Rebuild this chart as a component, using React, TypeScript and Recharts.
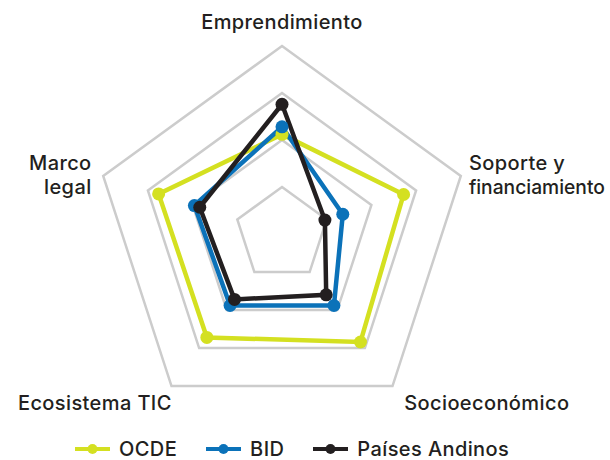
import React from 'react';
import { RadarChart, Radar, PolarGrid, PolarAngleAxis, PolarRadiusAxis, Legend } from 'recharts';

// ejes del radar, en sentido horario desde arriba
const dimensiones = ['Emprendimiento', 'Soporte y financiamiento', 'Socioeconómico', 'Ecosistema TIC', 'Marco legal'];

// valores (escala 0-100)
const ocde = [53, 68, 71, 68, 69];
const bid = [57, 34, 47, 47, 49];
const paisesAndinos = [69, 24, 40, 43, 46];

const series = [
  { key: 'ocde', nombre: 'OCDE', color: '#d4e021' },
  { key: 'bid', nombre: 'BID', color: '#0b72b9' },
  { key: 'andinos', nombre: 'Países Andinos', color: '#231f20' },
];

const datos = dimensiones.map((d, i) => ({
  dimension: d,
  ocde: ocde[i],
  bid: bid[i],
  andinos: paisesAndinos[i],
}));

const FUENTE = 'Inter, "Open Sans", sans-serif';
const TEXTO = { fontSize: 20, fontWeight: 500, letterSpacing: 0.4 };

// posición de cada etiqueta respecto al punto del tick
const etiquetas: Record<string, { lineas: string[]; dx: number; dy: number; anchor: string; ancho?: (number | undefined)[] }> = {
  Emprendimiento: { lineas: ['Emprendimiento'], dx: 0, dy: -9, anchor: 'middle' },
  'Soporte y financiamiento': {
    lineas: ['Soporte y', 'financiamiento'],
    dx: 0.5,
    dy: -3,
    anchor: 'start',
    ancho: [undefined, 136],
  },
  Socioeconómico: { lineas: ['Socioeconómico'], dx: 7, dy: 17.5, anchor: 'start' },
  'Ecosistema TIC': { lineas: ['Ecosistema TIC'], dx: 5, dy: 17.5, anchor: 'end' },
  'Marco legal': { lineas: ['Marco', 'legal'], dx: -4, dy: -3, anchor: 'end' },
};

const Etiqueta = ({ x, y, payload }: any) => {
  const cfg = etiquetas[payload.value];
  return (
    <text
      x={x + cfg.dx}
      y={y + cfg.dy}
      textAnchor={cfg.anchor}
      fill="#231f20"
      fontFamily={FUENTE}
      {...TEXTO}
    >
      {cfg.lineas.map((l, i) => {
        const ancho = cfg.ancho ? cfg.ancho[i] : undefined;
        return (
          <tspan
            key={i}
            x={x + cfg.dx}
            dy={i === 0 ? 0 : 24}
            {...(ancho ? { textLength: ancho, lengthAdjust: 'spacingAndGlyphs', letterSpacing: 0 } : {})}
          >
            {l}
          </tspan>
        );
      })}
    </text>
  );
};

const Leyenda = () => (
  <div style={{ display: 'flex', alignItems: 'center', fontFamily: FUENTE, paddingLeft: 75 }}>
    {series.map((s) => (
      <div key={s.key} style={{ display: 'flex', alignItems: 'center', marginRight: 29 }}>
        <svg width={35} height={14} style={{ marginRight: 9 }}>
          <line x1={0} y1={7} x2={35} y2={7} stroke={s.color} strokeWidth={4} />
          <circle cx={17.5} cy={7} r={5} fill={s.color} />
        </svg>
        <span style={{ ...TEXTO, color: '#231f20', lineHeight: '20px' }}>{s.nombre}</span>
      </div>
    ))}
  </div>
);

const punto = (color: string) => (props: any) => (
  <circle key={`${color}-${props.index}`} cx={props.cx} cy={props.cy} r={6.5} fill={color} />
);

export default function App() {
  return (
    <div style={{ position: 'absolute', left: 0, top: 0, width: 610, height: 460, background: '#fff' }}>
      <RadarChart
        width={610}
        height={460}
        data={datos}
        cx={282}
        cy={234}
        outerRadius={188}
        margin={{ top: 0, right: 0, bottom: 0, left: 0 }}
      >
        <PolarGrid stroke="#cccccc" strokeWidth={2.5} radialLines={false} />
        <PolarAngleAxis dataKey="dimension" tick={<Etiqueta />} tickLine={false} axisLine={false} />
        <PolarRadiusAxis domain={[0, 100]} tickCount={5} tick={false} axisLine={false} />
        {series.map((s) => (
          <Radar
            key={s.key}
            name={s.nombre}
            dataKey={s.key}
            stroke={s.color}
            strokeWidth={4.5}
            fill="none"
            fillOpacity={0}
            dot={punto(s.color)}
            isAnimationActive={false}
          />
        ))}
        <Legend content={<Leyenda />} wrapperStyle={{ position: 'absolute', top: 439, left: 0, width: 610 }} />
      </RadarChart>
    </div>
  );
}
